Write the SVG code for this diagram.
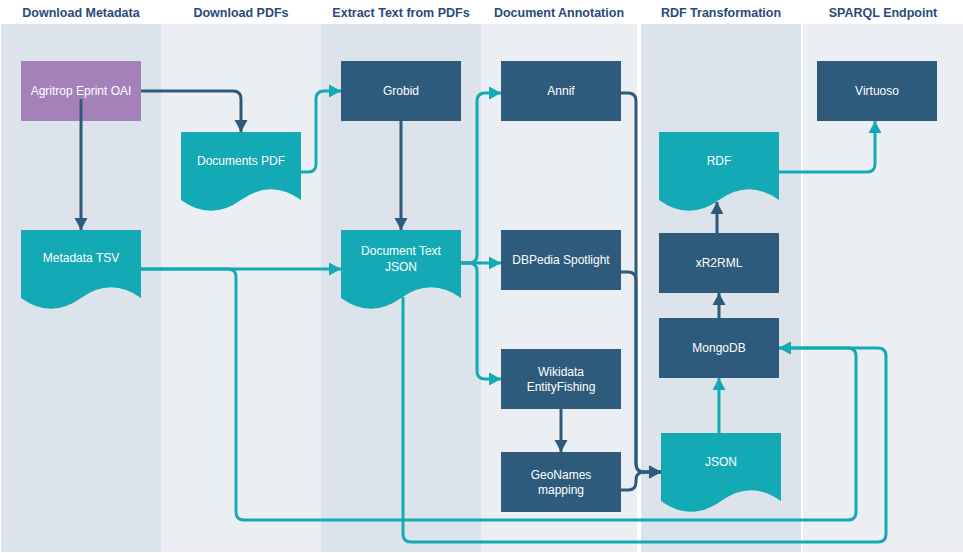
<svg xmlns="http://www.w3.org/2000/svg" width="963" height="553" viewBox="0 0 963 553">
<style>
.hdr{font-family:"Liberation Sans",Arial,sans-serif;font-weight:bold;font-size:12.5px;fill:#2a4a7b;text-anchor:middle}
.lt{font-family:"Liberation Sans",Arial,sans-serif;font-size:12px;fill:#ffffff;text-anchor:middle}
.dark{fill:#2e5a7b}
.teal{fill:#13aab6}
.purple{fill:#a581b9}
.cd{fill:none;stroke:#2e5a7b;stroke-width:3}
.ct{fill:none;stroke:#13aab6;stroke-width:3}
</style>
<defs>
<marker id="ad" markerUnits="userSpaceOnUse" markerWidth="13" markerHeight="14" refX="12" refY="6.5" orient="auto" viewBox="0 0 13 13"><path d="M0,0 L12,6.5 L0,13 z" fill="#2e5a7b"/></marker>
<marker id="at" markerUnits="userSpaceOnUse" markerWidth="13" markerHeight="14" refX="12" refY="6.5" orient="auto" viewBox="0 0 13 13"><path d="M0,0 L12,6.5 L0,13 z" fill="#13aab6"/></marker>
</defs>
<rect width="963" height="553" fill="#ffffff"/>
<g id="lanes">
<rect x="1" y="24" width="160" height="528" fill="#dce3ea"/>
<rect x="161" y="24" width="160" height="528" fill="#ebeff3"/>
<rect x="321" y="24" width="160" height="528" fill="#dce3ea"/>
<rect x="481" y="24" width="156" height="528" fill="#ebeff3"/>
<rect x="641" y="24" width="160" height="528" fill="#dce3ea"/>
<rect x="803" y="24" width="160" height="528" fill="#ebeff3"/>
<text class="hdr" x="81" y="17">Download Metadata</text>
<text class="hdr" x="241" y="17">Download PDFs</text>
<text class="hdr" x="401" y="17">Extract Text from PDFs</text>
<text class="hdr" x="559" y="17">Document Annotation</text>
<text class="hdr" x="721" y="17">RDF Transformation</text>
<text class="hdr" x="883" y="17">SPARQL Endpoint</text>
</g>
<g id="n-agritrop"><rect class="purple" x="21" y="61" width="120" height="60"/><text class="lt" x="81" y="95">Agritrop Eprint OAI</text></g>
<g id="n-docpdf"><path class="teal" d="M181,132 H301 V200 Q271,178.4 241,200 Q211,221.6 181,200 Z"/><text class="lt" x="241" y="165">Documents PDF</text></g>
<g id="n-grobid"><rect class="dark" x="341" y="61" width="120" height="60"/><text class="lt" x="401" y="95">Grobid</text></g>
<g id="n-metatsv"><path class="teal" d="M21,230 H141 V298 Q111,276.4 81,298 Q51,319.6 21,298 Z"/><text class="lt" x="81" y="262">Metadata TSV</text></g>
<g id="n-doctext"><path class="teal" d="M341,230 H461 V298 Q431,276.4 401,298 Q371,319.6 341,298 Z"/><text class="lt" x="401" y="255">Document Text</text><text class="lt" x="401" y="271">JSON</text></g>
<g id="n-annif"><rect class="dark" x="501" y="61" width="120" height="60"/><text class="lt" x="561" y="95">Annif</text></g>
<g id="n-dbpedia"><rect class="dark" x="501" y="230" width="120" height="60"/><text class="lt" x="561" y="264">DBPedia Spotlight</text></g>
<g id="n-wikidata"><rect class="dark" x="501" y="349" width="120" height="60"/><text class="lt" x="561" y="376">Wikidata</text><text class="lt" x="561" y="391">EntityFishing</text></g>
<g id="n-geonames"><rect class="dark" x="501" y="452" width="120" height="60"/><text class="lt" x="561" y="479">GeoNames</text><text class="lt" x="561" y="494">mapping</text></g>
<g id="n-virtuoso"><rect class="dark" x="817" y="61" width="120" height="60"/><text class="lt" x="877" y="95">Virtuoso</text></g>
<g id="n-rdf"><path class="teal" d="M659,132 H779 V200 Q749,178.4 719,200 Q689,221.6 659,200 Z"/><text class="lt" x="719" y="165">RDF</text></g>
<g id="n-xr2rml"><rect class="dark" x="659" y="233" width="120" height="60"/><text class="lt" x="719" y="267">xR2RML</text></g>
<g id="n-mongodb"><rect class="dark" x="659" y="318" width="120" height="60"/><text class="lt" x="719" y="352">MongoDB</text></g>
<g id="n-json"><path class="teal" d="M661,433 H781 V501 Q751,479.4 721,501 Q691,522.6 661,501 Z"/><text class="lt" x="721" y="466">JSON</text></g>
<g id="connectors">
<path class="cd" marker-end="url(#ad)" d="M141,91 H233 Q241,91 241,99 V132"/>
<path class="cd" marker-end="url(#ad)" d="M81,99 V230"/>
<path class="ct" marker-end="url(#at)" d="M301,172 H308 Q316,172 316,164 V99 Q316,91 324,91 H341"/>
<path class="cd" marker-end="url(#ad)" d="M401,121 V230"/>
<path class="ct" marker-end="url(#at)" d="M141,269 H341"/>
<path class="ct" marker-end="url(#at)" d="M141,269 H228 Q236,269 236,277 V512 Q236,520 244,520 H848 Q856,520 856,512 V356 Q856,348 848,348 H779"/>
<path class="ct" marker-end="url(#at)" d="M403,297 V534 Q403,542 411,542 H878 Q886,542 886,534 V356 Q886,348 878,348 H779"/>
<path class="ct" marker-end="url(#at)" d="M461,263 H469 Q477,263 477,255 V101 Q477,93 485,93 H501"/>
<path class="ct" marker-end="url(#at)" d="M461,263 H501"/>
<path class="ct" marker-end="url(#at)" d="M461,263 H469 Q477,263 477,271 V371 Q477,379 485,379 H501"/>
<path class="cd" marker-end="url(#ad)" d="M621,93 H628 Q636,93 636,101 V464 Q636,472 644,472 H661"/>
<path class="cd" marker-end="url(#ad)" d="M621,272 H628 Q636,272 636,280 V464 Q636,472 644,472 H661"/>
<path class="cd" marker-end="url(#ad)" d="M621,490 H628 Q636,490 636,482 V480 Q636,472 644,472 H661"/>
<path class="cd" marker-end="url(#ad)" d="M561,409 V452"/>
<path class="ct" marker-end="url(#at)" d="M719,433 V378"/>
<path class="cd" marker-end="url(#ad)" d="M719,318 V293"/>
<path class="cd" marker-end="url(#ad)" d="M717,233 V202"/>
<path class="ct" marker-end="url(#at)" d="M779,172 H867 Q875,172 875,164 V121"/>
</g>
</svg>
